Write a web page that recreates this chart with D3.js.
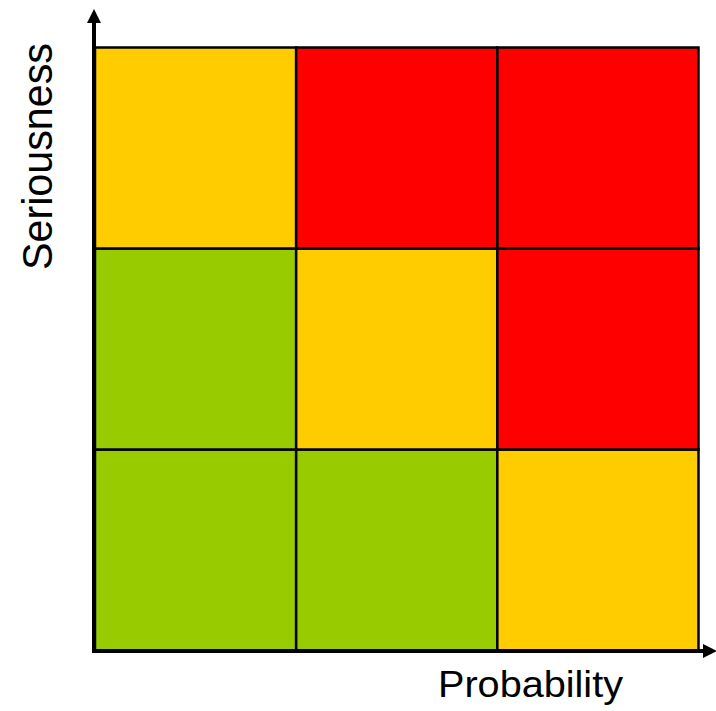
<!DOCTYPE html>
<html>
<head>
<meta charset="utf-8">
<script src="https://cdn.jsdelivr.net/npm/d3@7"></script>
<style>
  body { margin: 0; background: #fff; }
  text { font-family: "Liberation Sans", Arial, sans-serif; fill: #000; }
</style>
</head>
<body>
<div id="chart"></div>
<script>
// risk matrix levels
const probability = ['low', 'medium', 'high'];
const seriousness = ['low', 'medium', 'high'];

// risk rating per cell, one row per seriousness level (low first)
const ratingLow = ['low', 'low', 'medium'];
const ratingMedium = ['low', 'medium', 'high'];
const ratingHigh = ['medium', 'high', 'high'];

const colorMap = {
  'low': '#99cc00',
  'medium': '#ffcc00',
  'high': '#ff0000'
};

const W = 716, H = 711;
const grid = {left: 95, right: 698.5, top: 47.5, bottom: 650.5};

const svg = d3.select('#chart')
  .append('svg')
  .attr('width', W)
  .attr('height', H);

const x = d3.scaleBand()
  .domain(probability)
  .range([grid.left, grid.right]);

const y = d3.scaleBand()
  .domain(seriousness)
  .range([grid.bottom, grid.top]);

const rows = [ratingLow, ratingMedium, ratingHigh];
const cells = [];
rows.forEach((row, i) => {
  row.forEach((r, j) => {
    cells.push({ s: seriousness[i], p: probability[j], rating: r });
  });
});

svg.selectAll('rect.cell')
  .data(cells)
  .enter()
  .append('rect')
  .attr('class', 'cell')
  .attr('x', d => x(d.p))
  .attr('y', d => y(d.s))
  .attr('width', x.bandwidth())
  .attr('height', y.bandwidth())
  .attr('fill', d => colorMap[d.rating])
  .attr('stroke', '#000')
  .attr('stroke-width', 2.5);

// arrow axes
const defs = svg.append('defs');
defs.append('marker')
  .attr('id', 'arrow')
  .attr('viewBox', '0 0 10 10')
  .attr('refX', 1)
  .attr('refY', 5)
  .attr('markerWidth', 3.6)
  .attr('markerHeight', 3.6)
  .attr('markerUnits', 'strokeWidth')
  .attr('orient', 'auto')
  .append('path')
  .attr('d', 'M0,0 L10,5 L0,10 Z')
  .attr('fill', '#000');

const axisY0 = grid.bottom + 0.5;
const axisX0 = grid.left - 1;

svg.append('line')
  .attr('x1', axisX0).attr('y1', axisY0 + 2)
  .attr('x2', axisX0).attr('y2', 22)
  .attr('stroke', '#000')
  .attr('stroke-width', 4)
  .attr('marker-end', 'url(#arrow)');

svg.append('line')
  .attr('x1', axisX0 - 2).attr('y1', axisY0)
  .attr('x2', 704).attr('y2', axisY0)
  .attr('stroke', '#000')
  .attr('stroke-width', 4)
  .attr('marker-end', 'url(#arrow)');

// axis labels
svg.append('text')
  .attr('x', 438)
  .attr('y', 697)
  .attr('textLength', 185)
  .attr('lengthAdjust', 'spacingAndGlyphs')
  .style('font-size', '37px')
  .text('Probability');

svg.append('text')
  .attr('transform', 'translate(52,270) rotate(-90)')
  .attr('textLength', 227)
  .attr('lengthAdjust', 'spacingAndGlyphs')
  .style('font-size', '42px')
  .text('Seriousness');
</script>
</body>
</html>
